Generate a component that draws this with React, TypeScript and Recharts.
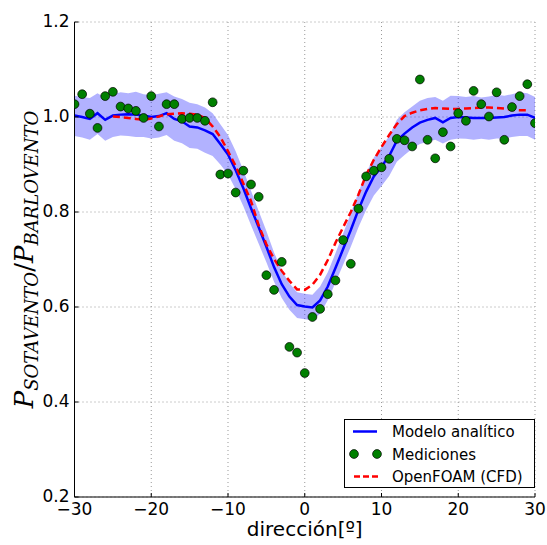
import React from 'react';
import { ComposedChart, Line, Area, Scatter, XAxis, YAxis, CartesianGrid } from 'recharts';

const angles = [
  -30, -29, -28, -27, -26, -25, -24, -23, -22, -21, -20, -19, -18, -17, -16, -15, -14, -13, -12, -11,
  -10, -9, -8, -7, -6, -5, -4, -3, -2, -1, 0, 1, 2, 3, 4, 5, 6, 7, 8, 9,
  10, 11, 12, 13, 14, 15, 16, 17, 18, 19, 20, 21, 22, 23, 24, 25, 26, 27, 28, 29, 30,
];

const measured = [
  1.027, 1.048, 1.007, 0.977, 1.044, 1.053, 1.022, 1.018, 1.013, 0.998, 1.044, 0.98, 1.027, 1.027, 0.996, 0.998, 0.998, 0.992, 1.031, 0.879,
  0.881, 0.841, 0.887, 0.858, 0.832, 0.667, 0.636, 0.695, 0.516, 0.504, 0.461, 0.579, 0.596, 0.627, 0.656, 0.741, 0.691, 0.807, 0.875, 0.887,
  0.894, 0.912, 0.954, 0.951, 0.938, 1.079, 0.952, 0.913, 0.968, 0.938, 1.008, 0.992, 1.055, 1.027, 1.001, 1.052, 0.952, 1.021, 1.044, 1.069, 0.987,
];

const model = [
  1.003, 1.0, 0.996, 1.008, 0.994, 1.003, 1.005, 1.006, 1.005, 1.003, 1.0, 1.002, 1.008, 0.996, 0.991, 0.98, 0.978, 0.972, 0.964, 0.943,
  0.921, 0.888, 0.85, 0.808, 0.768, 0.727, 0.684, 0.648, 0.622, 0.604, 0.601, 0.599, 0.614, 0.643, 0.682, 0.722, 0.762, 0.805, 0.843, 0.875,
  0.896, 0.918, 0.95, 0.965, 0.978, 0.988, 0.994, 0.998, 0.989, 0.998, 1.0, 0.999, 0.998, 0.998, 0.998, 0.999, 1.0, 1.003, 1.005, 1.005, 0.998,
];

const bandUpper = [
  1.045, 1.042, 1.04, 1.05, 1.04, 1.048, 1.052, 1.05, 1.053, 1.048, 1.046, 1.049, 1.052, 1.043, 1.038, 1.03, 1.027, 1.02, 1.008, 0.985,
  0.962, 0.928, 0.888, 0.845, 0.802, 0.76, 0.715, 0.677, 0.65, 0.631, 0.628, 0.626, 0.643, 0.673, 0.713, 0.755, 0.797, 0.842, 0.882, 0.915,
  0.937, 0.96, 0.994, 1.01, 1.022, 1.034, 1.04, 1.042, 1.034, 1.045, 1.044, 1.042, 1.044, 1.041, 1.043, 1.047, 1.045, 1.048, 1.052, 1.05, 1.042,
];

const bandLower = [
  0.96, 0.957, 0.952, 0.964, 0.95, 0.958, 0.961, 0.96, 0.958, 0.958, 0.955, 0.957, 0.962, 0.95, 0.945, 0.935, 0.933, 0.925, 0.918, 0.9,
  0.879, 0.848, 0.812, 0.772, 0.733, 0.694, 0.653, 0.619, 0.594, 0.577, 0.574, 0.572, 0.586, 0.614, 0.651, 0.689, 0.727, 0.768, 0.804, 0.835,
  0.855, 0.876, 0.906, 0.92, 0.933, 0.943, 0.948, 0.952, 0.944, 0.952, 0.955, 0.954, 0.952, 0.954, 0.952, 0.955, 0.955, 0.958, 0.96, 0.96, 0.952,
];

const cfdAngles = [
  -25, -24, -23, -22, -21, -20, -19, -18, -17, -16, -15, -14, -13, -12, -11, -10, -9, -8, -7, -6,
  -5, -4, -3, -2, -1, 0, 1, 2, 3, 4, 5, 6, 7, 8, 9, 10, 11, 12, 13, 14,
  15, 16, 17, 18, 19, 20, 21, 22, 23, 24, 25, 26, 27, 28, 29,
];

const cfd = [
  1.001, 1.0, 0.998, 0.996, 0.994, 0.997, 1.001, 1.006, 1.007, 1.008, 1.007, 1.005, 0.998, 0.98, 0.958, 0.928, 0.897, 0.86, 0.823, 0.772,
  0.732, 0.701, 0.676, 0.655, 0.637, 0.636, 0.647, 0.668, 0.699, 0.735, 0.768, 0.8, 0.837, 0.878, 0.91, 0.937, 0.962, 0.985, 1.002, 1.009,
  1.014, 1.017, 1.019, 1.018, 1.017, 1.017, 1.018, 1.019, 1.02, 1.02, 1.019, 1.018, 1.015, 1.014, 1.014,
];

const xTicks = [-30, -20, -10, 0, 10, 20, 30];
const yTicks = [0.2, 0.4, 0.6, 0.8, 1.0, 1.2];

const legendLabels = ['Modelo analítico', 'Mediciones', 'OpenFOAM (CFD)'];
const xLabel = 'dirección[º]';

const table = angles.map((a, i) => {
  const j = cfdAngles.indexOf(a);
  return {
    x: a,
    meas: measured[i],
    model: model[i],
    band: [bandLower[i], bandUpper[i]],
    cfd: j >= 0 ? cfd[j] : null,
  };
});

const FONT = '"DejaVu Sans", sans-serif';
const fmtX = (v: number) => (v < 0 ? `\u2212${-v}` : `${v}`);
const fmtY = (v: number) => v.toFixed(1);

const BottomTick = (p: any) => (
  <g>
    <line x1={p.x} x2={p.x} y1={p.y} y2={p.y - 4} stroke="#000" strokeWidth={1} />
    <text x={p.x} y={p.y + 18} textAnchor="middle" fontSize={17} fontFamily={FONT} fill="#000">
      {fmtX(p.payload.value)}
    </text>
  </g>
);
const TopTick = (p: any) => (
  <line x1={p.x} x2={p.x} y1={p.y} y2={p.y + 4} stroke="#000" strokeWidth={1} />
);
const LeftTick = (p: any) => (
  <g>
    <line x1={p.x} x2={p.x + 4} y1={p.y} y2={p.y} stroke="#000" strokeWidth={1} />
    <text x={p.x - 5} y={p.y + 5} textAnchor="end" fontSize={17} fontFamily={FONT} fill="#000">
      {fmtY(p.payload.value)}
    </text>
  </g>
);
const RightTick = (p: any) => (
  <line x1={p.x} x2={p.x - 4} y1={p.y} y2={p.y} stroke="#000" strokeWidth={1} />
);

const XLabel = (p: any) => {
  const vb = p.viewBox || { x: 0, y: 0, width: 0, height: 0 };
  return (
    <text x={vb.x + vb.width / 2} y={vb.y + 39} textAnchor="middle" fontSize={20} fontFamily={FONT} fill="#000">
      {xLabel}
    </text>
  );
};

const YLabel = (p: any) => {
  const vb = p.viewBox || { x: 0, y: 0, width: 0, height: 0 };
  const cx = 33;
  const cy = vb.y + vb.height / 2;
  return (
    <text
      x={cx}
      y={cy}
      transform={`rotate(-90, ${cx}, ${cy})`}
      textAnchor="middle"
      fontFamily='"DejaVu Serif", serif'
      fontStyle="italic"
      fill="#000"
      fontSize={26}
    >
      <tspan>P</tspan>
      <tspan fontSize={18} dy={5}>SOTAVENTO</tspan>
      <tspan fontStyle="normal" dy={-5}>/</tspan>
      <tspan>P</tspan>
      <tspan fontSize={18} dy={5}>BARLOVENTO</tspan>
    </text>
  );
};

const Dot = (p: any) =>
  p.cx == null || p.cy == null ? null : (
    <circle cx={p.cx} cy={p.cy} r={4.4} fill="#008000" stroke="#000" strokeWidth={0.7} />
  );

const Legend = () => (
  <svg width={191} height={69} style={{ position: 'absolute', left: 343.5, top: 418.5 }}>
    <rect x={0.5} y={0.5} width={190} height={68} fill="#fff" stroke="#000" strokeWidth={1} />
    <line x1={9} x2={33} y1={12.5} y2={12.5} stroke="#0000ff" strokeWidth={2.5} />
    <text x={48} y={18} fontSize={15} fontFamily={FONT} fill="#000">{legendLabels[0]}</text>
    <circle cx={10} cy={35} r={4.4} fill="#008000" stroke="#000" strokeWidth={0.7} />
    <circle cx={33} cy={35} r={4.4} fill="#008000" stroke="#000" strokeWidth={0.7} />
    <text x={48} y={40.5} fontSize={15} fontFamily={FONT} fill="#000">{legendLabels[1]}</text>
    <line x1={10} x2={34} y1={57.5} y2={57.5} stroke="#ff0000" strokeWidth={2.5} strokeDasharray="6 3" />
    <text x={48} y={63} fontSize={15} fontFamily={FONT} fill="#000">{legendLabels[2]}</text>
  </svg>
);

export default function App() {
  return (
    <div style={{ position: 'absolute', left: 0, top: 0, width: 547, height: 545, background: '#fff' }}>
      <ComposedChart
        width={547}
        height={545}
        data={table}
        margin={{ top: 22, right: 12, bottom: 0, left: 0 }}
      >
        <CartesianGrid stroke="#999" strokeDasharray="1 3" strokeWidth={1} />
        <XAxis
          dataKey="x"
          type="number"
          domain={[-30, 30]}
          ticks={xTicks}
          height={48}
          tickSize={0}
          tickMargin={0}
          tickLine={false}
          axisLine={{ stroke: '#000', strokeWidth: 1 }}
          tick={<BottomTick />}
          label={<XLabel />}
          allowDataOverflow
        />
        <XAxis
          xAxisId="top"
          orientation="top"
          dataKey="x"
          type="number"
          domain={[-30, 30]}
          ticks={xTicks}
          height={0}
          tickSize={0}
          tickMargin={0}
          tickLine={false}
          axisLine={{ stroke: '#000', strokeWidth: 1 }}
          tick={<TopTick />}
          allowDataOverflow
        />
        <YAxis
          type="number"
          domain={[0.2, 1.2]}
          ticks={yTicks}
          width={74.5}
          tickSize={0}
          tickMargin={0}
          tickLine={false}
          axisLine={{ stroke: '#000', strokeWidth: 1 }}
          tick={<LeftTick />}
          label={<YLabel />}
          allowDataOverflow
        />
        <YAxis
          yAxisId="right"
          orientation="right"
          type="number"
          domain={[0.2, 1.2]}
          ticks={yTicks}
          width={0}
          tickSize={0}
          tickMargin={0}
          tickLine={false}
          axisLine={{ stroke: '#000', strokeWidth: 1 }}
          tick={<RightTick />}
          allowDataOverflow
        />
        <Area
          dataKey="band"
          type="linear"
          fill="#0000ff"
          fillOpacity={0.3}
          stroke="none"
          isAnimationActive={false}
          activeDot={false}
        />
        <Line
          dataKey="model"
          type="linear"
          stroke="#0000ff"
          strokeWidth={2.5}
          dot={false}
          activeDot={false}
          isAnimationActive={false}
        />
        <Scatter dataKey="meas" shape={<Dot />} isAnimationActive={false} />
        <Line
          dataKey="cfd"
          type="linear"
          stroke="#ff0000"
          strokeWidth={2.5}
          strokeDasharray="7 4"
          dot={false}
          activeDot={false}
          isAnimationActive={false}
        />
      </ComposedChart>
      <Legend />
    </div>
  );
}
